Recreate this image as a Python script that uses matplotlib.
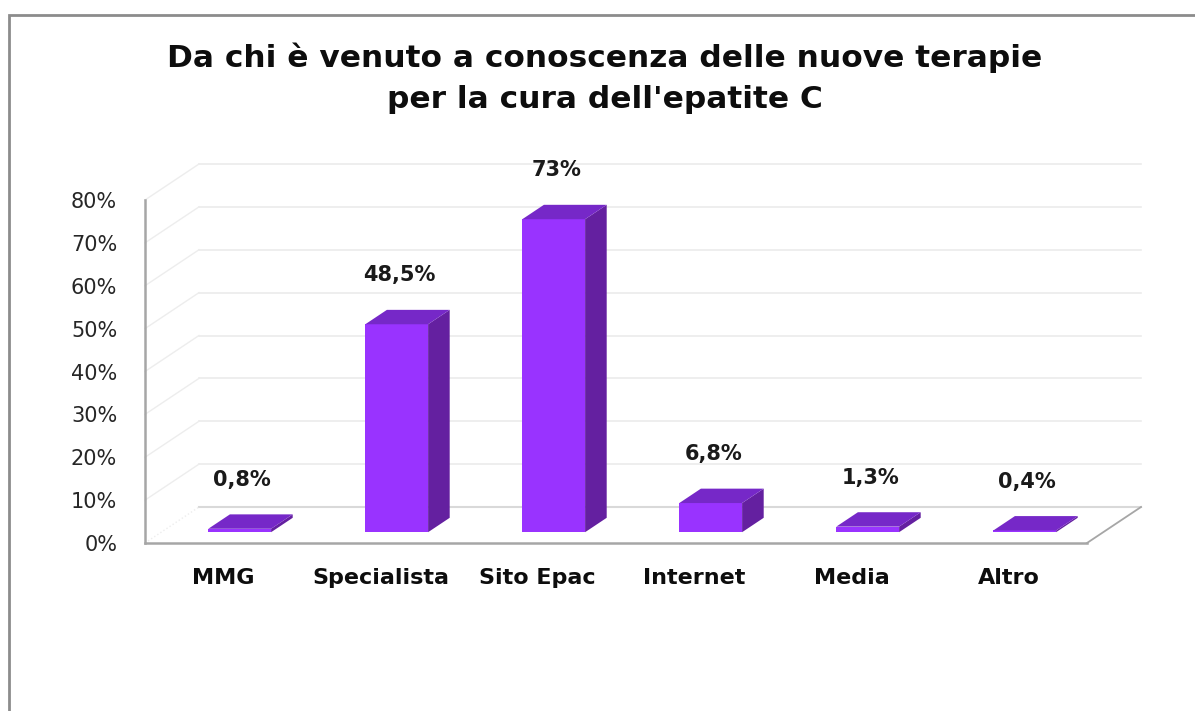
import matplotlib.pyplot as plt
from matplotlib.patches import Rectangle

categories = ['MMG', 'Specialista', 'Sito Epac', 'Internet', 'Media', 'Altro']
values = [0.8, 48.5, 73, 6.8, 1.3, 0.4]
value_labels = ['0,8%', '48,5%', '73%', '6,8%', '1,3%', '0,4%']
yticks = [0, 10, 20, 30, 40, 50, 60, 70, 80]
ytick_labels = ['0%', '10%', '20%', '30%', '40%', '50%', '60%', '70%', '80%']

fig = plt.figure(figsize=(11.95, 7.11), dpi=100)
fig.patch.set_facecolor('white')

# outer chart border (only top and left edges are visible)
fig.add_artist(Rectangle((9 / 1195, -0.1), 1.2, 1 - 15 / 711 + 0.1,
                         transform=fig.transFigure, fill=False,
                         edgecolor='#8c8c8c', linewidth=2))

# front plane of the 3D box
ax = fig.add_axes([145 / 1195, (711 - 543) / 711, 942 / 1195, 343 / 711])
ax.set_xlim(-0.5, 5.5)
ax.set_ylim(0, 80)
for s in ax.spines.values():
    s.set_visible(False)

# depth vector in data units (one full depth = 54 px right, 36 px up)
DX = 54 / 942 * 6
DY = 36 / 343 * 80


def proj(x, y, d):
    return x + d * DX, y + d * DY


x0, x1 = -0.5, 5.5

# back wall gridlines and left wall diagonals
for t in yticks:
    bx0, by = proj(x0, t, 1)
    bx1, _ = proj(x1, t, 1)
    col = '#d9d9d9' if t == 0 else '#ebebeb'
    ax.plot([bx0, bx1], [by, by], color=col, lw=1.5 if t == 0 else 1.2,
            clip_on=False, zorder=1)
    fx, fy = proj(x0, t, 0)
    ax.plot([fx, bx0], [fy, by], color='#ededed', lw=1, clip_on=False,
            zorder=1, ls=':' if t == 0 else '-')

# floor edges and vertical axis
ax.plot([x0, x1], [0, 0], color='#a6a6a6', lw=1.8, clip_on=False, zorder=2)
rx, ry = proj(x1, 0, 1)
ax.plot([x1, rx], [0, ry], color='#a6a6a6', lw=1.3, clip_on=False, zorder=2)
ax.plot([x0, x0], [0, 80], color='#a6a6a6', lw=1.8, clip_on=False, zorder=2)

# 3D columns
d0, d1 = 0.3, 0.7
w = 0.4
front_col = '#9933ff'
side_col = '#6420a0'
top_col = '#7628c8'
xs = list(range(len(categories)))
fx0, fy0 = proj(0, 0, d0)
ax.bar([x + fx0 for x in xs], values, width=w, bottom=fy0,
       color=front_col, clip_on=False, zorder=4, linewidth=0)
for x, v in zip(xs, values):
    l, r = x - w / 2, x + w / 2
    # right side face
    side = [proj(r, 0, d0), proj(r, 0, d1), proj(r, v, d1), proj(r, v, d0)]
    ax.fill([p[0] for p in side], [p[1] for p in side], color=side_col,
            clip_on=False, zorder=3, lw=0)
    # top face
    top = [proj(l, v, d0), proj(r, v, d0), proj(r, v, d1), proj(l, v, d1)]
    ax.fill([p[0] for p in top], [p[1] for p in top], color=top_col,
            clip_on=False, zorder=5, lw=0)

# value labels above the columns
for x, v, lab in zip(xs, values, value_labels):
    mx, my = proj(x, v, 0.5)
    ax.annotate(lab, xy=(mx, my), xytext=(-6, 30), textcoords='offset points',
                ha='center', va='center', fontsize=15, fontweight='bold',
                color='#1a1a1a', zorder=6)

ax.set_yticks(yticks)
ax.set_yticklabels(ytick_labels, fontsize=15, color='#262626')
ax.set_xticks(xs)
ax.set_xticklabels(categories, fontsize=16, fontweight='bold', color='#0d0d0d')
ax.tick_params(axis='y', length=0, pad=20)
ax.tick_params(axis='x', length=0, pad=18)
ax.patch.set_visible(False)

fig.text(605 / 1195, 1 - 78 / 711,
         "Da chi è venuto a conoscenza delle nuove terapie\nper la cura dell'epatite C",
         ha='center', va='center', fontsize=22.5, fontweight='bold',
         linespacing=1.5, color='#0d0d0d')

fig.savefig('out.png', dpi=100)
